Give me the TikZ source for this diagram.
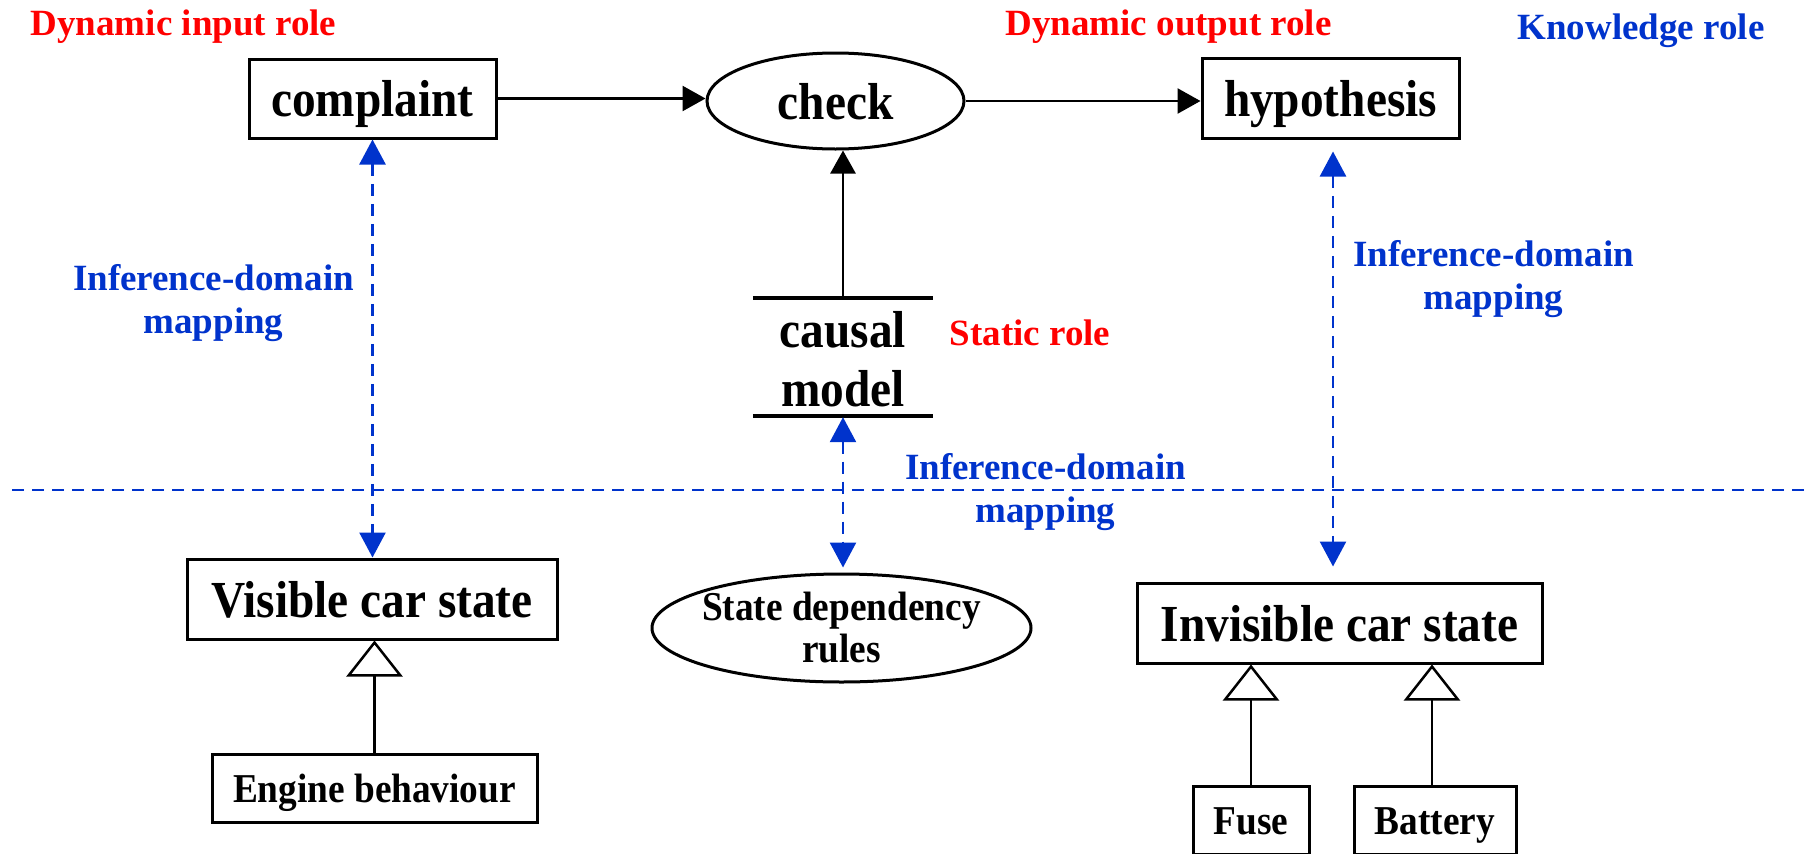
\documentclass[tikz,border=0pt]{standalone}
\usepackage{fontspec}
\setmainfont{Liberation Serif}
\newfontfamily\condfont{Liberation Serif}[FakeStretch=0.91]
\usetikzlibrary{arrows.meta,shapes.geometric}
\definecolor{rolered}{RGB}{255,0,0}
\definecolor{kblue}{RGB}{0,51,204}

\begin{document}
\begin{tikzpicture}[x=1pt,y=-1pt,
  bigbox/.style={draw, line width=3pt, inner sep=0pt,
    font=\condfont\bfseries\fontsize{52}{60}\selectfont,
    text height=40pt, text depth=4pt},
  smallbox/.style={draw, line width=3pt, inner sep=0pt,
    font=\condfont\bfseries\fontsize{41}{48}\selectfont,
    text height=32pt, text depth=4pt},
  oval/.style={draw, ellipse, line width=3pt, inner sep=0pt},
  bigtext/.style={inner sep=0pt, anchor=base,
    font=\condfont\bfseries\fontsize{52}{60}\selectfont},
  midtext/.style={inner sep=0pt, anchor=base,
    font=\condfont\bfseries\fontsize{41}{48}\selectfont},
  rolelabel/.style={inner sep=0pt, anchor=base,
    font=\bfseries\fontsize{37}{44}\selectfont},
  flow/.style={line width=2.5pt, -{Triangle[length=23pt,width=25pt]}},
  mapping/.style={line width=2.5pt, kblue, dash pattern=on 12pt off 8pt,
    {Triangle[length=25pt,width=26pt]}-{Triangle[length=25pt,width=26pt]}},
  generalise/.style={line width=2.5pt,
    -{Triangle[length=36pt,width=56pt,fill=white,line width=2.5pt]}}]

% canvas
\fill[white] (0,0) rectangle (1805,854);
\useasboundingbox (0,0) rectangle (1805,854);

% role labels
\node[rolelabel, rolered] (lblin)  at (183.5,35) {Dynamic input role};
\node[rolelabel, rolered] (lblout) at (1168.5,35) {Dynamic output role};
\node[rolelabel, kblue]   (lblkn)  at (1641,39) {Knowledge role};
\node[rolelabel, rolered] (lblst)  at (1030,345) {Static role};

% inference layer
\node[bigbox, minimum width=247pt, minimum height=79pt] (cmp) at (372.5,98.5) {complaint};
\node[oval, minimum width=257pt, minimum height=96pt,
      font=\condfont\bfseries\fontsize{52}{60}\selectfont,
      text height=40pt, text depth=4pt] (chk) at (835.5,101) {check};
\node[bigbox, minimum width=257pt, minimum height=80pt] (hyp) at (1330.5,98) {hypothesis};

% static role: causal model between two bars
\node[inner sep=0pt, minimum width=180pt, minimum height=118.3pt] (cm) at (843,356.85) {};
\draw[line width=4pt] (cm.north west) -- (cm.north east);
\draw[line width=4pt] (cm.south west) -- (cm.south east);
\node[bigtext] (cmA) at (843,347) {causal};
\node[bigtext] (cmB) at (843,406) {model};

% flow of the inference
\draw[flow] (cmp.east) -- (cmp.east -| chk.west);
\draw[flow] (chk.east) -- (chk.east -| hyp.west);
\draw[flow] (cm.north) -- (cm.north |- chk.south);

% boundary between inference and domain layers
\coordinate (sepL) at (12,490);
\coordinate (sepR) at (1805,490);
\draw[line width=2.5pt, kblue, dash pattern=on 12pt off 8pt] (sepL) -- (sepR);

% domain layer
\node[bigbox, minimum width=370pt, minimum height=80pt] (vis) at (372,599) {Visible car state};
\node[smallbox, minimum width=325pt, minimum height=68pt] (eng) at (374.5,788) {Engine behaviour};
\node[oval, minimum width=379pt, minimum height=108pt] (sdr) at (841.5,628) {};
\node[midtext] (sdrA) at (841.5,620) {State dependency};
\node[midtext] (sdrB) at (841.5,662) {rules};
\node[bigbox, minimum width=405pt, minimum height=80pt] (inv) at (1339.5,623) {Invisible car state};
\node[smallbox, minimum width=116pt, minimum height=68pt] (fuse) at (1251,820) {Fuse};
\node[smallbox, minimum width=162pt, minimum height=68pt] (bat) at (1435,820) {Battery};

% sub-type links
\draw[generalise] (eng.north) -- (eng.north |- vis.south);
\draw[generalise] (fuse.north) -- (fuse.north |- inv.south);
\draw[generalise] ([xshift=-3pt]bat.north) -- ([xshift=-3pt]bat.north |- inv.south);

% inference-domain mappings
\draw[mapping] (cmp.south) -- (cmp.south |- vis.north);
\draw[mapping, shorten <=1pt, shorten >=5pt] (cm.south) -- (cm.south |- sdr.north);
\draw[mapping, shorten <=12pt, shorten >=15pt] ([xshift=2.5pt]hyp.south) -- ([xshift=2.5pt]hyp.south |- inv.north);

\node[rolelabel, kblue] (mapLa) at (213.5,290) {Inference-domain};
\node[rolelabel, kblue] (mapLb) at (213.5,333) {mapping};
\node[rolelabel, kblue] (mapMa) at (1045.5,479) {Inference-domain};
\node[rolelabel, kblue] (mapMb) at (1045.5,522) {mapping};
\node[rolelabel, kblue] (mapRa) at (1493.5,266) {Inference-domain};
\node[rolelabel, kblue] (mapRb) at (1493.5,309) {mapping};
\end{tikzpicture}
\end{document}
